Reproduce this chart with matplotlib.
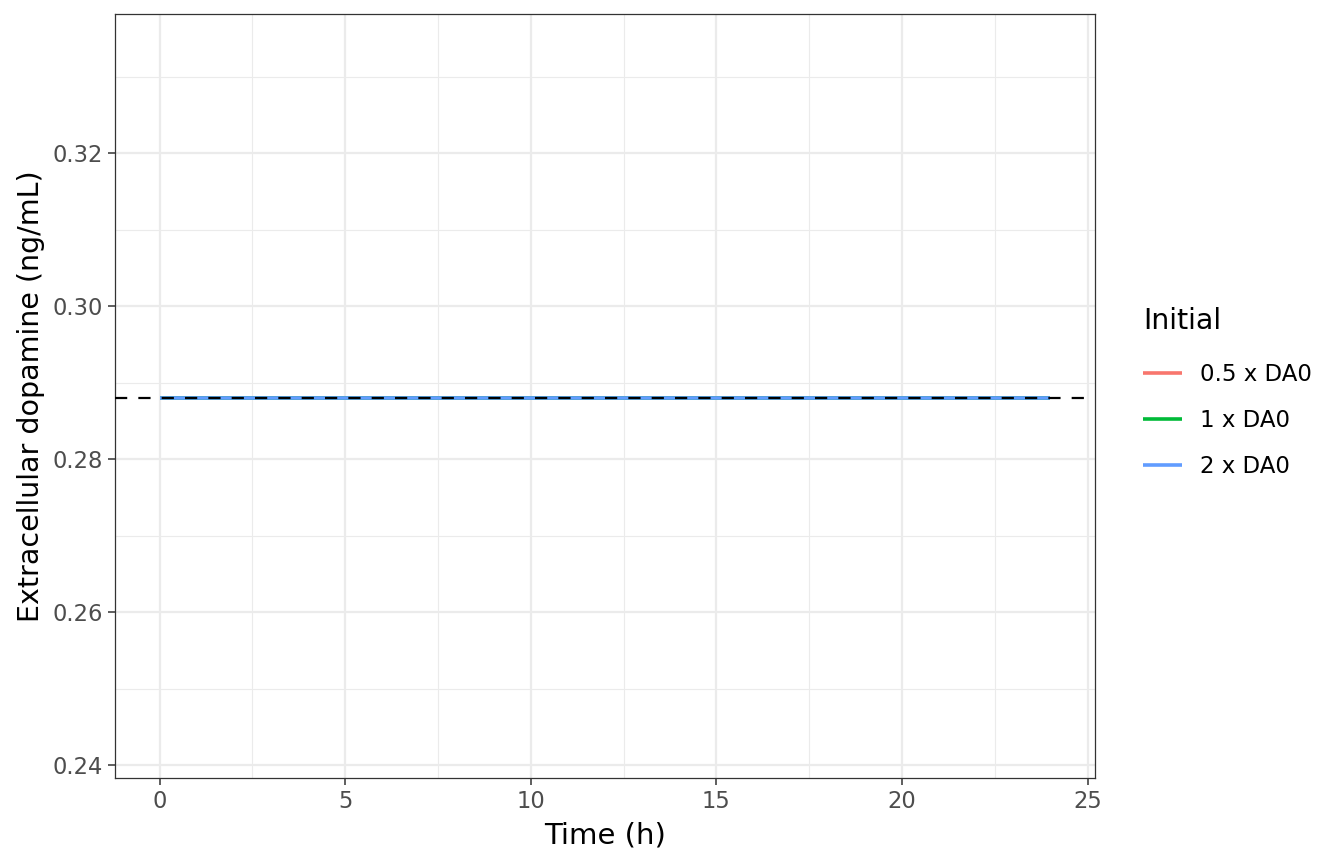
import numpy as np
import matplotlib.pyplot as plt
from matplotlib.ticker import MultipleLocator

# simulation output: extracellular dopamine stays at steady state
time_h = [0, 1, 2, 3, 4, 5, 6, 7, 8, 9, 10, 11, 12,
          13, 14, 15, 16, 17, 18, 19, 20, 21, 22, 23, 24]
da_half = [0.288] * 25
da_one = [0.288] * 25
da_two = [0.288] * 25
labels = ["0.5 x DA0", "1 x DA0", "2 x DA0"]
colors = ["#F8766D", "#00BA38", "#619CFF"]
steady_state = 0.288

fig = plt.figure(figsize=(13.44, 8.64), dpi=100)
ax = fig.add_axes([0.0856, 0.0995, 0.7291, 0.8843])

for y, lab, c in zip([da_half, da_one, da_two], labels, colors):
    ax.plot(time_h, y, color=c, lw=2.6, label=lab, solid_capstyle='butt', zorder=3)
ax.axhline(steady_state, color='black', lw=1.6, dashes=(5.5, 5), zorder=4)

ax.set_xlim(-1.2, 25.2)
ax.set_ylim(0.2383, 0.3382)
ax.xaxis.set_major_locator(MultipleLocator(5))
ax.xaxis.set_minor_locator(MultipleLocator(2.5))
ax.yaxis.set_major_locator(MultipleLocator(0.02))
ax.yaxis.set_minor_locator(MultipleLocator(0.01))
ax.yaxis.set_major_formatter(plt.FuncFormatter(lambda v, p: f"{v:.2f}"))

ax.grid(which='major', color='#EBEBEB', lw=1.6)
ax.grid(which='minor', color='#EBEBEB', lw=0.8)
ax.set_axisbelow(True)
ax.tick_params(which='major', length=5, width=1.1, color='#333333', pad=3.5,
               labelsize=16.3, labelcolor='#4D4D4D')
ax.tick_params(which='minor', length=0)
for s in ax.spines.values():
    s.set_color('#333333')
    s.set_linewidth(0.9)

ax.set_xlabel("Time (h)", fontsize=21, labelpad=6)
ax.set_ylabel("Extracellular dopamine (ng/mL)", fontsize=20.5, labelpad=6)

leg = ax.legend(title="Initial", loc='upper left', bbox_to_anchor=(1.028, 0.643),
                frameon=False, fontsize=16.5, title_fontsize=20.5,
                handlelength=1.7, handletextpad=0.8, labelspacing=1.0)
leg._legend_box.align = "left"
leg._legend_box.sep = 20

fig.savefig("out.png", dpi=100)
